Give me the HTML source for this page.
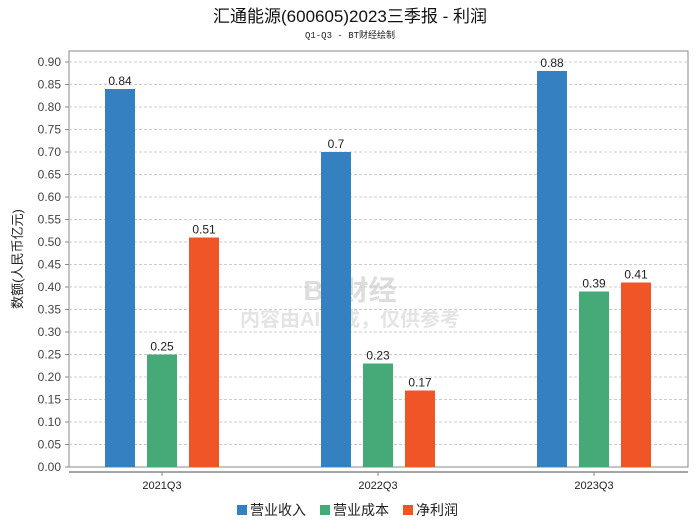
<!DOCTYPE html>
<html><head><meta charset="utf-8"><style>
body{margin:0;background:#fff;font-family:"Liberation Sans","Noto Sans CJK SC",sans-serif}
</style></head><body>
<svg id="c" width="700" height="524" xmlns="http://www.w3.org/2000/svg" style="font-family:'Liberation Sans','Noto Sans CJK SC',sans-serif">
<text x="350" y="22" text-anchor="middle" font-size="17" fill="#111">汇通能源(600605)2023三季报 - 利润</text>
<text x="350" y="38" text-anchor="middle" font-size="9" fill="#222" font-family="Liberation Mono,monospace">Q1-Q3 - BT财经绘制</text>
<rect x="69" y="51" width="619" height="416" fill="none" stroke="#888"/>
<line x1="69" y1="472" x2="688" y2="472" stroke="#888" stroke-width="1.5"/>
<text x="350" y="300" text-anchor="middle" font-size="28" fill="#ddd" font-weight="bold">BT财经</text>
<text x="350" y="326" text-anchor="middle" font-size="20" fill="#e4e4e4" font-weight="bold">内容由AI生成，仅供参考</text>
<text transform="translate(22,259) rotate(-90)" text-anchor="middle" font-size="13" fill="#222">数额(人民币亿元)</text>
<g id="grid"></g><g id="bars"></g>
<g>
<rect x="237" y="505" width="10" height="10" fill="#3580c0"/>
<text x="250" y="515" font-size="14" fill="#222">营业收入</text>
<rect x="320" y="505" width="10" height="10" fill="#46a978"/>
<text x="333" y="515" font-size="14" fill="#222">营业成本</text>
<rect x="403" y="505" width="10" height="10" fill="#f05528"/>
<text x="416" y="515" font-size="14" fill="#222">净利润</text>
</g>
</svg>
<script>
const categories=["2021Q3","2022Q3","2023Q3"];
const revenue=[0.84,0.7,0.88];
const cost=[0.25,0.23,0.39];
const profit=[0.51,0.17,0.41];
const yTicks=[0,0.05,0.1,0.15,0.2,0.25,0.3,0.35,0.4,0.45,0.5,0.55,0.6,0.65,0.7,0.75,0.8,0.85,0.9];
const NS="http://www.w3.org/2000/svg";
const y=v=>467-v*450;
const x=i=>162+i*216;
const grid=document.getElementById('grid'),bars=document.getElementById('bars');
function mk(tag,a,p){const e=document.createElementNS(NS,tag);for(const k in a)e.setAttribute(k,a[k]);p.appendChild(e);return e;}
yTicks.forEach(t=>{
  if(t>0){const l=mk('line',{x1:69,x2:688,y1:y(t),y2:y(t),stroke:'#ccc','stroke-dasharray':'3,2'},grid);
  
  }
  const tk=mk('line',{x1:65,x2:69,y1:y(t),y2:y(t),stroke:'#888'},grid);
  
  
  const tx=mk('text',{x:61,y:y(t)+4,'text-anchor':'end','font-size':12,fill:'#444'},grid);
  tx.textContent=t.toFixed(2);
  
  
});
const series=[[revenue,'#3580c0','revenue'],[cost,'#46a978','cost'],[profit,'#f05528','profit']];
categories.forEach((c,i)=>{
  const tk=mk('line',{x1:x(i),x2:x(i),y1:472,y2:476,stroke:'#888'},grid);
  
  
  const tx=mk('text',{x:x(i),y:489,'text-anchor':'middle','font-size':11,fill:'#222'},grid);
  tx.textContent=c;
  
  
  series.forEach(([arr,col,nm],j)=>{
    const bx=x(i)+(j-1)*42-15,v=arr[i];
    const r=mk('rect',{x:bx,y:y(v),width:30,height:467-y(v),fill:col},bars);
    
    
    const lb=mk('text',{x:bx+15,y:y(v)-4,'text-anchor':'middle','font-size':12,fill:'#222'},bars);
    lb.textContent=String(v);
    
    
  });
});
</script>
</body></html>
